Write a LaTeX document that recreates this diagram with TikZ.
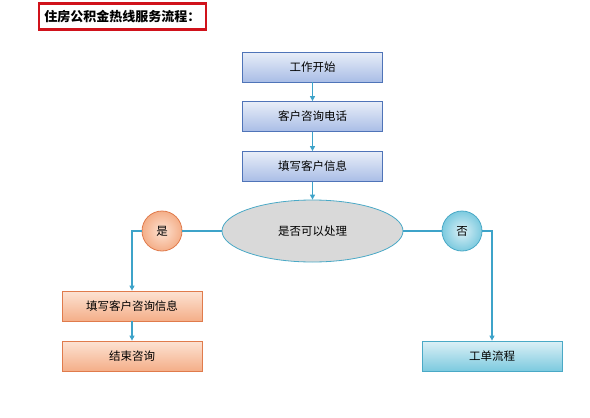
\documentclass[tikz,border=0pt]{standalone}
\usepackage{fontspec}
\setmainfont{Noto Sans CJK SC}
\usepackage{xcolor}
\usetikzlibrary{shapes.geometric,arrows.meta}

\definecolor{lineteal}{HTML}{3DA3C9}
\definecolor{blueedge}{HTML}{4F74B8}
\definecolor{bluetop}{HTML}{E8EEF8}
\definecolor{bluebot}{HTML}{A9BDE6}
\definecolor{orangeedge}{HTML}{E07B4C}
\definecolor{orangetop}{HTML}{FDE3D3}
\definecolor{orangebot}{HTML}{F4AE88}
\definecolor{cyanedge}{HTML}{4AA9C6}
\definecolor{cyantop}{HTML}{DCF0F6}
\definecolor{cyanbot}{HTML}{7CCADF}
\definecolor{titlered}{HTML}{D0121B}

\begin{document}
\begin{tikzpicture}[
    x=1pt, y=-1pt,
    box/.style={draw, minimum width=140pt, minimum height=30pt,
                font=\fontsize{11.5}{13}\selectfont, inner sep=2pt, line width=0.8pt},
    stepblue/.style  ={box, draw=blueedge, top color=bluetop, bottom color=bluebot},
    steporange/.style={box, draw=orangeedge, top color=orangetop, bottom color=orangebot},
    stepcyan/.style  ={box, draw=cyanedge, top color=cyantop, bottom color=cyanbot},
    decide/.style={ellipse, draw=cyanedge, fill=black!15, line width=0.8pt,
                   minimum width=181pt, minimum height=62pt, font=\fontsize{11.5}{13}\selectfont},
    answer/.style={circle, minimum size=40pt, inner sep=0pt, line width=0.8pt,
                   font=\fontsize{11.5}{13}\selectfont},
    link/.style={lineteal, line width=1.1pt},
    arr/.style ={link, -{Triangle[length=5pt, width=5pt]}}
  ]
    \useasboundingbox (0,0) rectangle (590,418);

    % title
    \node[draw=titlered, line width=2.5pt, minimum width=167pt, minimum height=26pt,
          font=\fontsize{13}{15}\selectfont\bfseries] (title) at (122.5,16.5)
          {住房公积金热线服务流程：};

    % main column
    \node[stepblue] (start) at (312.5,67)  {工作开始};
    \node[stepblue] (call)  at (312.5,116.5) {客户咨询电话};
    \node[stepblue] (info)  at (312.5,166.5) {填写客户信息};
    \node[decide]   (check) at (312.5,231) {是否可以处理};

    % answers
    \node[answer, draw=orangeedge, inner color=orangetop, outer color=orangebot] (yes) at (162,231) {是};
    \node[answer, draw=cyanedge, inner color=cyantop, outer color=cyanbot] (no) at (462,231) {否};

    % branches
    \node[steporange] (fillq)  at (132,306)   {填写客户咨询信息};
    \node[steporange] (finish) at (132,356)   {结束咨询};
    \node[stepcyan]   (ticket) at (492,356)   {工单流程};

    \foreach \a/\b in {start/call, call/info, info/check, fillq/finish} \draw[arr] (\a) -- (\b);
    \draw[link] (check) -- (yes);
    \draw[link] (check) -- (no);
    \draw[arr] (yes.west) -| (fillq.north);
    \draw[arr] (no.east) -| (ticket.north);
  \end{tikzpicture}
\end{document}
